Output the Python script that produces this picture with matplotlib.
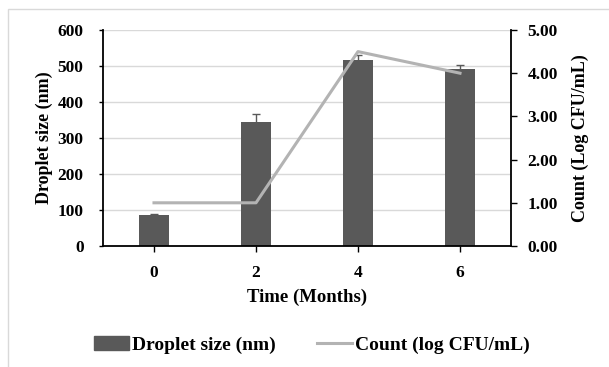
import matplotlib as mpl
from matplotlib import pyplot as plt
from matplotlib.patches import Rectangle
from matplotlib.lines import Line2D
import numpy as np

months = ["0", "2", "4", "6"]
droplet_size = [86, 345, 516, 493]
droplet_err = [3, 22, 15, 11]
count_log = [1.0, 1.0, 4.5, 4.0]

plt.rcParams['font.family'] = ['Liberation Serif', 'DejaVu Serif']
plt.rcParams['font.weight'] = 'bold'
plt.rcParams['font.size'] = 13

bar_color = '#595959'
line_color = '#b3b3b3'

fig = plt.figure(figsize=(6.09, 3.67), dpi=100)
ax = fig.add_axes([103/609, 1 - 246/367, 408/609, 216/367])

x = np.arange(len(months))
ax.bar(x, droplet_size, width=0.3, color=bar_color, zorder=2,
       yerr=droplet_err, error_kw=dict(ecolor=bar_color, elinewidth=1, capsize=3, capthick=1))
ax.set_ylim(0, 600)
ax.set_yticks(range(0, 601, 100))
ax.set_xlim(-0.5, 3.5)
ax.set_xticks(x)
ax.set_xticklabels(months)
ax.yaxis.grid(True, color='#d9d9d9', linewidth=1)
ax.set_axisbelow(True)
for s in ['top', 'right']:
    ax.spines[s].set_visible(False)
for s in ['left', 'bottom']:
    ax.spines[s].set_linewidth(1.3)
ax.tick_params(axis='y', length=3, width=1, labelsize=12.5, pad=11)
ax.tick_params(axis='x', length=4, width=1, labelsize=12.5, pad=10)
ax.set_ylabel('Droplet size (nm)', fontsize=13, fontweight='bold', labelpad=3)
ax.set_xlabel('Time (Months)', fontsize=13.5, fontweight='bold', labelpad=5)

ax2 = ax.twinx()
ax2.plot(x, count_log, color=line_color, linewidth=2.2, zorder=3)
ax2.set_ylim(0, 5)
ax2.set_yticks(np.arange(0, 5.01, 1))
ax2.set_yticklabels(['%.2f' % v for v in np.arange(0, 5.01, 1)])
for s in ['top', 'left', 'bottom']:
    ax2.spines[s].set_visible(False)
ax2.spines['right'].set_linewidth(1.3)
ax2.tick_params(axis='y', length=4, width=1, labelsize=12.5, pad=8)
ax2.set_ylabel('Count (Log CFU/mL)', fontsize=13, fontweight='bold', labelpad=10)

handles = [Rectangle((0, 0), 1, 1, color=bar_color),
           Line2D([0], [0], color=line_color, linewidth=2.2)]
fig.legend(handles, ['Droplet size (nm)', 'Count (log CFU/mL)'], loc='center',
           bbox_to_anchor=(0.512, 1 - 345/367), ncol=2, frameon=False,
           handlelength=1.8, handletextpad=0.15, columnspacing=2.1, fontsize=14)

fig.patches.append(Rectangle((8/609, -0.1), 1.2, 1 - 9/367 + 0.1, transform=fig.transFigure,
                             fill=False, edgecolor='#d9d9d9', linewidth=1))

plt.savefig('out.png', dpi=100)
